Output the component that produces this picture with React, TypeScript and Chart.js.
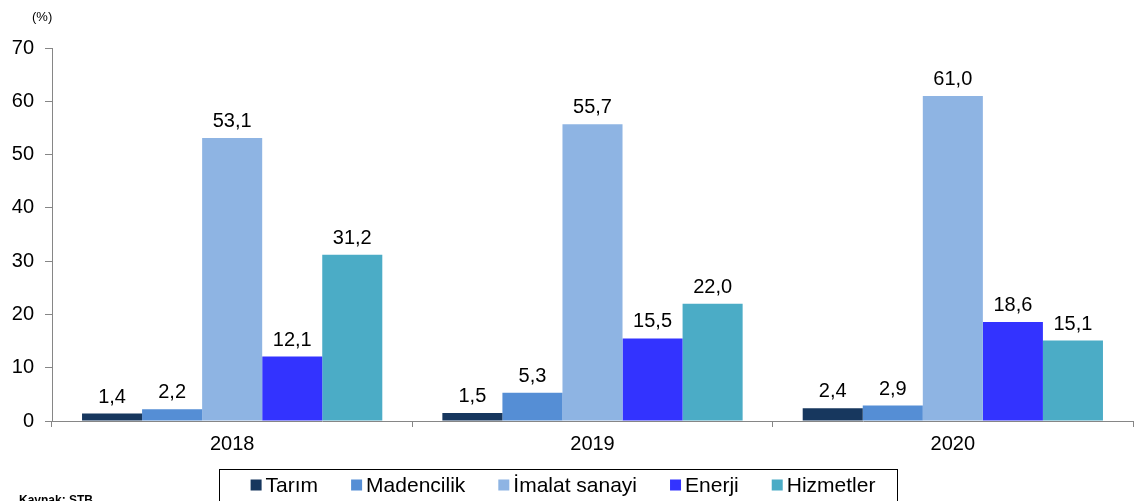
import React, { useEffect, useRef } from "react";
import { Chart, registerables } from "chart.js";

Chart.register(...registerables);

const years = ["2018", "2019", "2020"];
const seriesNames = ["Tarım", "Madencilik", "İmalat sanayi", "Enerji", "Hizmetler"];
const tarim = [1.4, 1.5, 2.4];
const madencilik = [2.2, 5.3, 2.9];
const imalat = [53.1, 55.7, 61.0];
const enerji = [12.1, 15.5, 18.6];
const hizmetler = [31.2, 22.0, 15.1];
const colors = ["#17375E", "#558ED5", "#8EB4E3", "#3333FF", "#4BACC6"];
const yTicks = [0, 10, 20, 30, 40, 50, 60, 70];

const FONT = "'Liberation Sans', Arial, sans-serif";

const fmt = (v: number) => v.toFixed(1).replace(".", ",");

const extrasPlugin = {
  id: "extras",
  afterDatasetsDraw(chart: any) {
    const ctx = chart.ctx;
    ctx.save();
    ctx.fillStyle = "#000";
    ctx.font = `20px ${FONT}`;
    ctx.textAlign = "center";
    ctx.textBaseline = "alphabetic";
    chart.data.datasets.forEach((ds: any, i: number) => {
      const meta = chart.getDatasetMeta(i);
      meta.data.forEach((el: any, j: number) => {
        ctx.fillText(fmt(ds.data[j]), el.x, el.y - 11);
      });
    });
    ctx.restore();
  },
  afterDraw(chart: any) {
    const ctx = chart.ctx;
    ctx.save();
    ctx.fillStyle = "#000";
    ctx.font = `13px ${FONT}`;
    ctx.textAlign = "left";
    ctx.textBaseline = "alphabetic";
    ctx.fillText("(%)", 32, 21);
    ctx.font = `bold 12px ${FONT}`;
    ctx.fillText("Kaynak: STB", 19, 504);
    const boxL = 219.5, boxR = 897.5, boxT = 469.5, boxB = 505;
    ctx.strokeStyle = "#000";
    ctx.lineWidth = 1;
    ctx.strokeRect(boxL, boxT, boxR - boxL, boxB - boxT);
    ctx.font = `21px ${FONT}`;
    const marker = 11, gapM = 4, gapItem = 33;
    const widths = seriesNames.map((n) => ctx.measureText(n).width);
    const total = widths.reduce((a, w) => a + marker + gapM + w, 0) + gapItem * (seriesNames.length - 1);
    let x = 563 - total / 2;
    const cy = 485;
    seriesNames.forEach((n, i) => {
      ctx.fillStyle = colors[i];
      ctx.fillRect(x, cy - marker / 2, marker, marker);
      ctx.fillStyle = "#000";
      ctx.textBaseline = "middle";
      ctx.fillText(n, x + marker + gapM, cy + 1);
      x += marker + gapM + widths[i] + gapItem;
    });
    ctx.restore();
  },
};

export default function App() {
  const ref = useRef<HTMLCanvasElement | null>(null);
  useEffect(() => {
    if (!ref.current) return;
    const data = [tarim, madencilik, imalat, enerji, hizmetler];
    const chart = new Chart(ref.current, {
      type: "bar",
      data: {
        labels: years,
        datasets: seriesNames.map((name, i) => ({
          label: name,
          data: data[i],
          backgroundColor: colors[i],
          borderWidth: 0,
          categoryPercentage: 0.8333,
          barPercentage: 1,
        })),
      },
      options: {
        responsive: false,
        animation: false,
        layout: { padding: { top: 48, right: 1, left: 0, bottom: 0 } },
        plugins: { legend: { display: false }, tooltip: { enabled: false } },
        scales: {
          x: {
            offset: true,
            grid: {
              offset: true,
              drawOnChartArea: false,
              drawTicks: true,
              tickLength: 6,
              color: "#868686",
            },
            border: { color: "#868686", width: 1 },
            ticks: { color: "#000", font: { family: FONT, size: 20 }, padding: 5 },
            afterFit: (s: any) => { s.height = 80; },
          },
          y: {
            min: 0,
            max: 70,
            afterBuildTicks: (s: any) => { s.ticks = yTicks.map((v) => ({ value: v })); },
            grid: { drawOnChartArea: false, drawTicks: true, tickLength: 7, color: "#868686" },
            border: { color: "#868686", width: 1 },
            ticks: { color: "#000", font: { family: FONT, size: 20 }, padding: 11 },
            afterFit: (s: any) => { s.width = 52; },
          },
        },
      },
      plugins: [extrasPlugin],
    });
    return () => chart.destroy();
  }, []);
  return (
    <div style={{ position: "absolute", left: 0, top: 0, width: 1134, height: 501, background: "#fff" }}>
      <canvas ref={ref} width={1134} height={501} />
    </div>
  );
}
